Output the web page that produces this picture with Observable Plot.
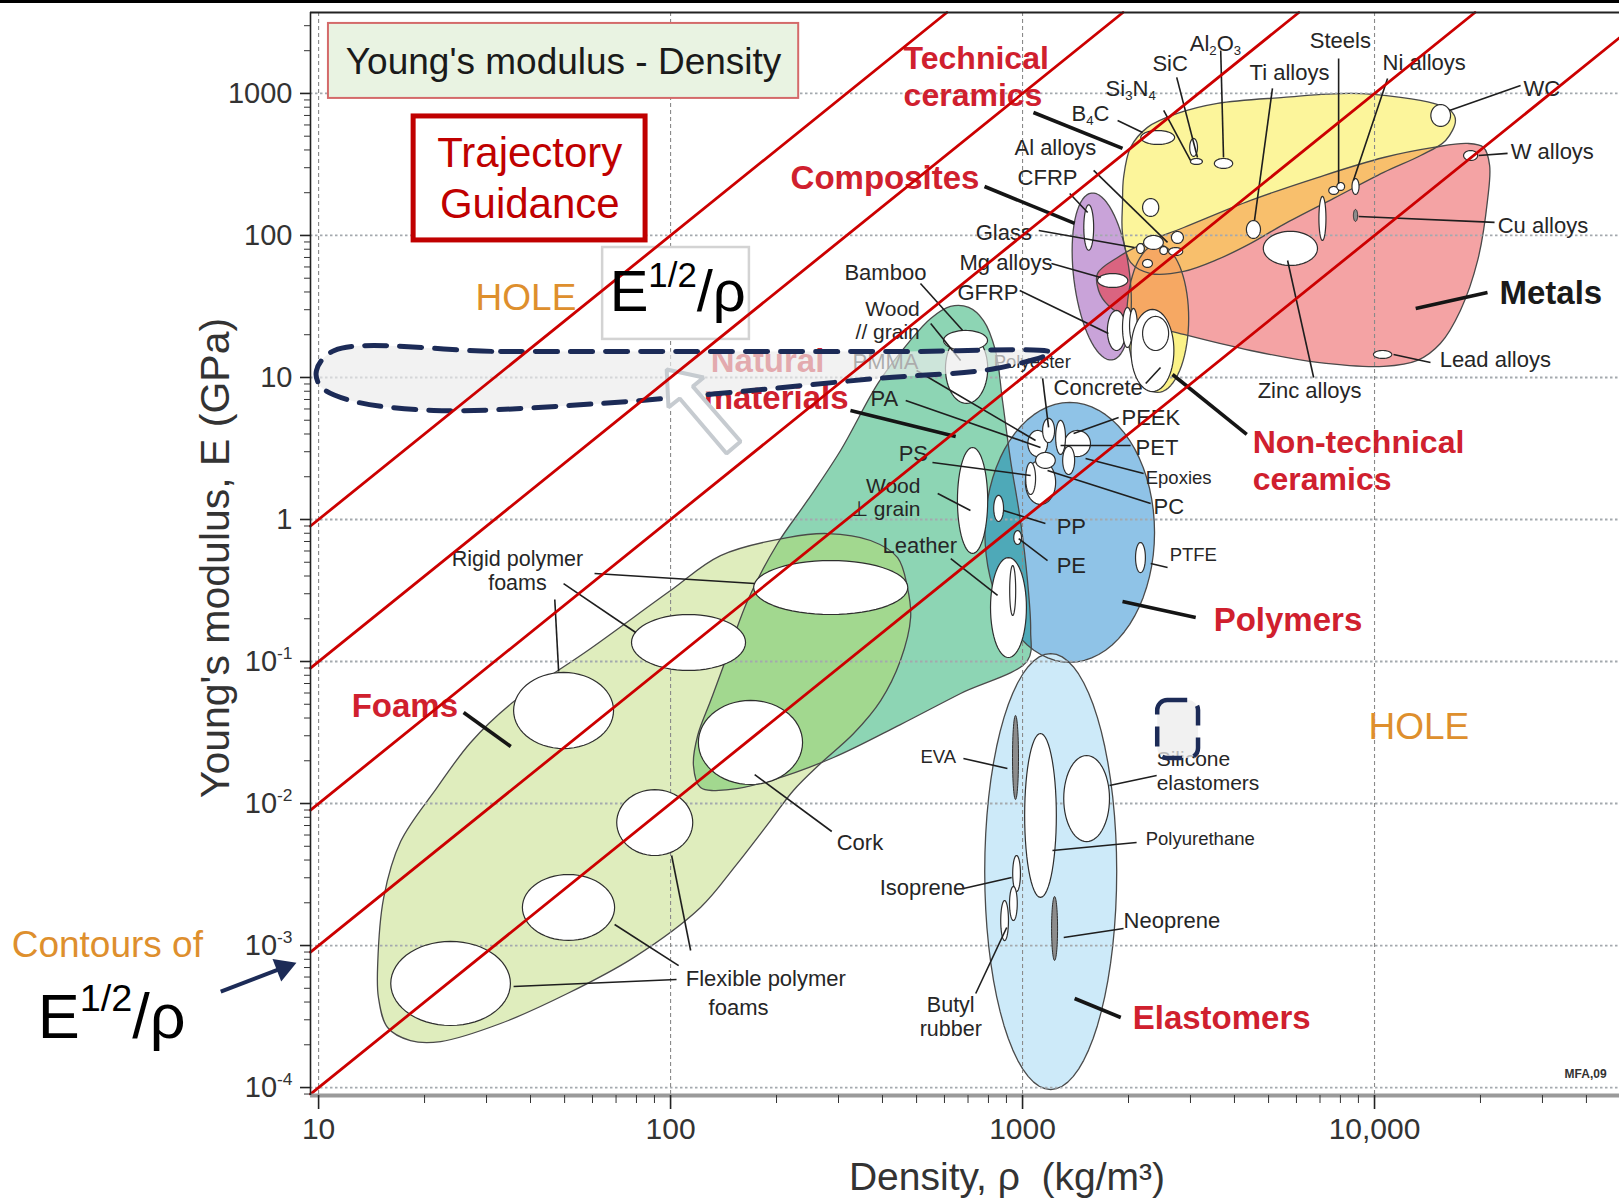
<!DOCTYPE html>
<html><head><meta charset="utf-8">
<script src="https://cdn.jsdelivr.net/npm/d3@7"></script>
<script src="https://cdn.jsdelivr.net/npm/@observablehq/plot@0.6"></script>
<style>
body{margin:0;background:#fff;}
#chart{position:absolute;left:0;top:0;}
#topbar{position:absolute;left:0;top:0;width:1619px;height:3px;background:#000;}
</style></head>
<body>
<div id="chart"></div>
<div id="topbar"></div>
<script>
// ======================= DATA (log10 density kg/m3, log10 modulus GPa) =======================
const xTicks = [10, 100, 1000, 10000];
const xTickLabels = ["10", "100", "1000", "10,000"];
const yTicks = [1e-4, 1e-3, 1e-2, 1e-1, 1, 10, 100, 1000];
const yTickLabels = ["10^{-4}", "10^{-3}", "10^{-2}", "10^{-1}", "1", "10", "100", "1000"];

// Guide lines E^(1/2)/rho = constant
const contourValues = [0.1, 0.0316, 0.01, 0.00316, 0.001];

// Family envelopes read as boundary points [log10 rho, log10 E]
const foamsOutline = [[1.261,-3.669],[1.196,-3.577],[1.170,-3.366],[1.168,-3.127],[1.185,-2.662],[1.233,-2.268],[1.335,-1.894],[1.432,-1.570],[1.551,-1.289],[1.773,-0.908],[2.000,-0.500],[2.142,-0.254],[2.332,-0.127],[2.446,-0.099],[2.568,-0.148],[2.645,-0.268],[2.673,-0.479],[2.682,-0.690],[2.653,-0.993],[2.597,-1.275],[2.520,-1.507],[2.426,-1.718],[2.349,-1.908],[2.284,-2.120],[2.185,-2.437],[2.085,-2.732],[1.895,-3.085],[1.707,-3.338],[1.517,-3.549],[1.347,-3.676]];
const naturalOutline = [[2.085,-1.887],[2.065,-1.732],[2.077,-1.521],[2.114,-1.275],[2.156,-0.993],[2.219,-0.570],[2.304,-0.169],[2.389,0.134],[2.483,0.486],[2.591,0.965],[2.679,1.254],[2.739,1.415],[2.795,1.500],[2.847,1.493],[2.889,1.401],[2.923,1.190],[2.943,0.838],[2.966,0.415],[2.994,-0.007],[3.014,-0.430],[3.023,-0.782],[3.014,-0.993],[2.824,-1.225],[2.653,-1.444],[2.463,-1.676],[2.284,-1.838],[2.170,-1.901]];
const techCeramicsOutline = [[3.284,2.014],[3.284,2.225],[3.287,2.408],[3.307,2.620],[3.355,2.761],[3.440,2.859],[3.554,2.930],[3.742,2.972],[3.932,3.000],[4.074,2.972],[4.168,2.930],[4.216,2.880],[4.230,2.810],[4.202,2.669],[4.131,2.563],[4.026,2.444],[3.884,2.261],[3.742,2.078],[3.648,1.944],[3.554,1.831],[3.458,1.747],[3.364,1.732],[3.307,1.810]];
const metalsOutline = [[3.213,1.732],[3.270,1.845],[3.344,1.944],[3.458,2.056],[3.648,2.247],[3.838,2.408],[4.026,2.549],[4.168,2.620],[4.264,2.648],[4.310,2.620],[4.327,2.493],[4.321,2.247],[4.293,1.824],[4.244,1.472],[4.187,1.239],[4.122,1.120],[4.026,1.078],[3.838,1.106],[3.648,1.190],[3.458,1.303],[3.315,1.401],[3.244,1.507],[3.216,1.613]];
// Elliptic envelopes: [family, log10 rho centre, log10 E centre, half-width (decades rho), half-height (decades E), tilt deg]
const ellipseFamilies = [
  ["Polymers", 3.134, -0.091, 0.241, 0.915, 0],
  ["Elastomers", 3.080, -2.479, 0.1875, 1.535, 0],
  ["Composites", 3.225, 1.711, 0.0795, 0.592, 7],
  ["Non-technical ceramics", 3.384, 1.416, 0.088, 0.521, 0]
];

// Material bubbles: [material, log10 rho, log10 E, half-width (decades), half-height (decades)]
const materialBubbles = [
  ["Flexible polymer foam a", 1.375, -3.267, 0.170, 0.296],
  ["Flexible polymer foam b", 1.710, -2.732, 0.131, 0.232],
  ["Flexible polymer foam c", 1.955, -2.134, 0.108, 0.232],
  ["Rigid polymer foam a", 1.696, -1.345, 0.142, 0.268],
  ["Rigid polymer foam b", 2.051, -0.866, 0.162, 0.197],
  ["Cork", 2.227, -1.570, 0.148, 0.296],
  ["Rigid polymer foam c", 2.455, -0.479, 0.219, 0.190],
  ["Wood // grain", 2.841, 1.063, 0.060, 0.246],
  ["Bamboo", 2.838, 1.261, 0.0625, 0.070],
  ["Wood ⊥ grain", 2.858, 0.134, 0.043, 0.373],
  ["Leather", 2.960, -0.620, 0.051, 0.352],
  ["Leather core", 2.972, -0.500, 0.0085, 0.176],
  ["PS", 3.051, 0.261, 0.043, 0.155],
  ["PA", 3.043, 0.535, 0.028, 0.092],
  ["PET", 3.156, 0.535, 0.037, 0.092],
  ["PEEK", 3.108, 0.578, 0.014, 0.120],
  ["PMMA", 3.023, 0.289, 0.014, 0.113],
  ["Polyester", 3.074, 0.627, 0.017, 0.085],
  ["Epoxies", 3.065, 0.416, 0.028, 0.056],
  ["PC", 3.131, 0.416, 0.017, 0.099],
  ["PP", 2.932, 0.078, 0.014, 0.092],
  ["PE", 2.986, -0.127, 0.011, 0.049],
  ["PTFE", 3.335, -0.268, 0.014, 0.106],
  ["Polyurethane", 3.051, -2.084, 0.045, 0.577],
  ["Silicone elastomers", 3.182, -1.965, 0.065, 0.303],
  ["Isoprene", 2.983, -2.493, 0.011, 0.127],
  ["Natural rubber", 2.974, -2.704, 0.011, 0.120],
  ["Butyl rubber", 2.949, -2.824, 0.011, 0.141],
  ["CFRP", 3.188, 2.056, 0.014, 0.160],
  ["GFRP", 3.267, 1.331, 0.026, 0.141],
  ["GFRP b", 3.298, 1.352, 0.014, 0.141],
  ["GFRP c", 3.315, 1.366, 0.011, 0.120],
  ["B4C", 3.384, 2.690, 0.048, 0.049],
  ["SiC", 3.486, 2.620, 0.011, 0.063],
  ["Si3N4", 3.494, 2.521, 0.017, 0.021],
  ["Al2O3", 3.571, 2.507, 0.026, 0.035],
  ["WC", 4.188, 2.845, 0.028, 0.077],
  ["W alloys", 4.273, 2.563, 0.020, 0.035],
  ["Steels a", 3.884, 2.317, 0.014, 0.028],
  ["Steels b", 3.904, 2.345, 0.011, 0.028],
  ["Ni alloys", 3.946, 2.345, 0.010, 0.056],
  ["Stainless", 3.852, 2.120, 0.010, 0.155],
  ["Ti alloys", 3.656, 2.042, 0.020, 0.063],
  ["Zinc alloys", 3.761, 1.909, 0.077, 0.120],
  ["Lead alloys", 4.023, 1.162, 0.026, 0.028],
  ["Glass ceramic", 3.364, 2.197, 0.023, 0.063],
  ["Al alloys", 3.372, 1.951, 0.028, 0.049],
  ["Al alloys b", 3.440, 1.986, 0.017, 0.042],
  ["Al alloys c", 3.435, 1.887, 0.020, 0.028],
  ["Al alloys d", 3.401, 1.894, 0.011, 0.028],
  ["Glass", 3.335, 1.908, 0.011, 0.035],
  ["Glass b", 3.355, 1.803, 0.014, 0.028],
  ["Mg alloys", 3.256, 1.683, 0.043, 0.049],
  ["Concrete", 3.369, 1.190, 0.061, 0.289],
  ["Concrete core", 3.378, 1.310, 0.037, 0.120]
];
const darkBubbles = [
  ["EVA", 2.980, -1.676, 0.0085, 0.296],
  ["Neoprene", 3.091, -2.880, 0.0085, 0.225],
  ["Cu alloys", 3.946, 2.141, 0.006, 0.042]
];

// Leader lines [name, rho1, E1, rho2, E2] (log10)
const familyLeaders = [
  ["Technical ceramics", 3.031, 2.866, 3.284, 2.613],
  ["Composites", 2.892, 2.345, 3.148, 2.085],
  ["Natural materials", 2.511, 0.768, 2.810, 0.585],
  ["Foams", 1.412, -1.359, 1.546, -1.598],
  ["Polymers", 3.284, -0.577, 3.492, -0.690],
  ["Elastomers", 3.148, -3.373, 3.279, -3.507],
  ["Non-technical ceramics", 3.426, 1.021, 3.637, 0.599],
  ["Metals", 4.117, 1.486, 4.321, 1.599]
];
const materialLeaders = [
  ["SiC", 3.438, 3.113, 3.497, 2.549], ["Si3N4", 3.401, 2.880, 3.477, 2.528],
  ["Al2O3", 3.563, 3.303, 3.571, 2.549], ["B4C", 3.270, 2.810, 3.341, 2.725],
  ["Ti alloys", 3.710, 3.035, 3.659, 2.106], ["Steels", 3.898, 3.246, 3.898, 2.366],
  ["Ni alloys", 4.037, 3.106, 3.940, 2.387], ["WC", 4.415, 3.056, 4.213, 2.880],
  ["W alloys", 4.378, 2.578, 4.296, 2.563], ["Cu alloys", 4.341, 2.092, 3.955, 2.134],
  ["CFRP", 3.134, 2.296, 3.185, 2.162], ["Al alloys", 3.202, 2.458, 3.412, 1.951],
  ["Glass", 3.046, 2.035, 3.318, 1.915], ["Mg alloys", 3.082, 1.803, 3.222, 1.704],
  ["GFRP", 2.992, 1.613, 3.244, 1.310], ["Bamboo", 2.710, 1.662, 2.830, 1.331],
  ["Wood // grain", 2.739, 1.380, 2.824, 1.120], ["Lead alloys", 4.159, 1.106, 4.054, 1.162],
  ["Zinc alloys", 3.827, 1.000, 3.753, 1.824], ["Concrete", 3.350, 0.958, 3.392, 1.070],
  ["Polyester", 3.057, 0.993, 3.074, 0.648], ["PMMA", 2.699, 1.049, 3.037, 0.556],
  ["PA", 2.668, 0.838, 3.051, 0.507], ["PEEK", 3.273, 0.718, 3.145, 0.606],
  ["PET", 3.307, 0.521, 3.108, 0.521], ["Epoxies", 3.344, 0.324, 3.179, 0.430],
  ["PC", 3.364, 0.113, 3.071, 0.345], ["PS", 2.744, 0.401, 3.023, 0.310],
  ["Wood ⊥ grain", 2.759, 0.183, 2.852, 0.063], ["PP", 3.065, -0.028, 2.946, 0.063],
  ["PE", 3.071, -0.289, 2.989, -0.134], ["PTFE", 3.412, -0.338, 3.364, -0.310],
  ["Leather", 2.796, -0.275, 2.929, -0.535], ["Rigid a", 1.784, -0.380, 2.239, -0.451],
  ["Rigid b", 1.696, -0.451, 1.901, -0.796], ["Rigid c", 1.671, -0.563, 1.682, -1.070],
  ["Flexible a", 2.017, -3.239, 1.554, -3.289], ["Flexible b", 2.023, -3.141, 1.841, -2.852],
  ["Flexible c", 2.057, -3.035, 2.003, -2.366], ["Cork", 2.239, -1.796, 2.458, -2.197],
  ["EVA", 2.832, -1.683, 2.957, -1.753], ["Silicone", 3.381, -1.803, 3.247, -1.873],
  ["Polyurethane", 3.324, -2.275, 3.085, -2.331], ["Isoprene", 2.832, -2.598, 2.969, -2.521],
  ["Neoprene", 3.287, -2.880, 3.117, -2.944], ["Butyl rubber", 2.867, -3.338, 2.955, -2.873]
];

// Labels [text, log10 rho (anchor), log10 E (centre)]
const familyLabels = [
  ["Composites", 2.341, 2.401],
  ["Natural", 2.114, 1.113], ["materials", 2.094, 0.852], ["Foams", 1.094, -1.317],
  ["Polymers", 3.543, -0.711], ["Elastomers", 3.313, -3.514]
];
const familyStackLabels = [["Technical\nceramics", 2.662, 3.127], ["Non-technical\nceramics", 3.654, 0.419]];
const metalsLabel = [["Metals", 4.355, 1.592]];
const materialLabels = [
  ["SiC", 3.369, 3.211], ["Al_{2}O_{3}", 3.475, 3.352], ["Steels", 3.816, 3.373],
  ["Ni alloys", 4.023, 3.218], ["WC", 4.423, 3.035], ["Ti alloys", 3.645, 3.141],
  ["Si_{3}N_{4}", 3.236, 3.035], ["B_{4}C", 3.139, 2.859], ["W alloys", 4.387, 2.585],
  ["Al alloys", 2.977, 2.613], ["CFRP", 2.986, 2.408], ["Cu alloys", 4.350, 2.070],
  ["Glass", 2.867, 2.021], ["Bamboo", 2.494, 1.739], ["Mg alloys", 2.821, 1.803],
  ["GFRP", 2.815, 1.592], ["Lead alloys", 4.185, 1.120], ["PMMA", 2.517, 1.106],
  ["Concrete", 3.088, 0.923], ["Zinc alloys", 3.668, 0.908], ["PA", 2.568, 0.852],
  ["PEEK", 3.281, 0.718], ["PET", 3.321, 0.507], ["PS", 2.648, 0.465],
  ["PC", 3.372, 0.085], ["PP", 3.097, -0.056], ["Leather", 2.602, -0.183],
  ["PE", 3.097, -0.324], ["Cork", 2.472, -2.275],
  ["Isoprene", 2.594, -2.598], ["Neoprene", 3.287, -2.824],
  ["Flexible polymer", 2.043, -3.232], ["foams", 2.108, -3.443]
];
const leftStackLabels = [["Silicone\nelastomers", 3.381, -1.768]];
const rightStackLabels = [["Wood\n// grain", 2.708, 1.401], ["Wood\n⊥ grain", 2.710, 0.155]];
const centreStackLabels = [["Butyl\nrubber", 2.796, -3.500], ["Rigid polymer\nfoams", 1.565, -0.359]];
const smallLabels = [
  ["Polyester", 2.918, 1.106], ["Epoxies", 3.350, 0.289], ["PTFE", 3.418, -0.253],
  ["EVA", 2.710, -1.676], ["Polyurethane", 3.350, -2.253]
];

// Annotations
const holeRegion = [[1.045,1.190],[1.517,1.183],[2.085,1.183],[2.653,1.183],[3.080,1.176],[2.923,1.063],[2.585,0.993],[2.136,0.887],[1.801,0.817],[1.327,0.768],[1.091,0.838],[1.006,0.937],[0.994,1.049]];
const holeRegionSmall = [[3.384, 3.500, -1.275, -1.683]];
const guidanceArrow = [[1.989,1.056],[2.094,1.000],[2.063,0.937],[2.199,0.549],[2.159,0.465],[2.026,0.852],[1.994,0.789]];
const titleBox = [[1.028, 2.364, 2.965, 3.493]];
const trajectoryBox = [[1.270, 1.929, 1.965, 2.838]];
const ratioBox = [[1.807, 2.224, 1.268, 1.915]];
const titleText = [["Young's modulus - Density", 1.696, 3.218]];
const trajectoryText = [["Trajectory", 1.600, 2.578], ["Guidance", 1.600, 2.218]];
const holeLabels = [["HOLE", 1.446, 1.556], ["HOLE", 3.983, -1.465]];
const ratioLabels = [["E^{1/2}/ρ", 1.827, 1.599], ["E^{1/2}/ρ", 0.202, -3.507]];
const contourNote = [["Contours of", 0.128, -3.000]];
const contourArrow = [[0.722, -3.324, 0.900, -3.156]];
const sourceNote = [["MFA,09", 4.540, -3.908]];

// ======================= LAYOUT / STYLE =======================
const W = 1619, H = 1201;
const M = {top: 12, right: 0, bottom: 106, left: 310};
const LX = [0.977, 4.696], LY = [-4.056, 3.570];
const xDom = [10 ** LX[0], 10 ** LX[1]], yDom = [10 ** LY[0], 10 ** LY[1]];
const pxDecX = (W - M.left - M.right) / (LX[1] - LX[0]);
const pxDecY = (H - M.top - M.bottom) / (LY[1] - LY[0]);
const SANS = "'Liberation Sans', Arial, Helvetica, sans-serif";
const NS = "http://www.w3.org/2000/svg";
const RED = "#d0202e", NAVY = "#1c2b57";

const familyFill = {
  "Foams": "#dfedbd", "Natural materials": "#8dd5b4", "Polymers": "#8fc3e7",
  "Elastomers": "#cdeaf9", "Composites": "#c9a3d9", "Technical ceramics": "#fcf59b",
  "Metals": "#f4a3a4", "Non-technical ceramics": "#fbf287"
};
const overlaps = [
  ["Foams", "Natural materials", "#a2d88f"],
  ["Polymers", "Natural materials", "#4ea9b8"],
  ["Metals", "Technical ceramics", "#f8bf6c"],
  ["Metals", "Composites", "#da6480"],
  ["Metals", "Non-technical ceramics", "#f6a863"]
];

const toVal = ([a, b]) => ({x: 10 ** a, y: 10 ** b});
function ellipse(lx, ly, rx, ry, tilt = 0, n = 72) {
  const s = pxDecY / pxDecX, a = tilt * Math.PI / 180, pts = [];
  for (let i = 0; i < n; i++) {
    const t = 2 * Math.PI * i / n;
    const u = rx * Math.cos(t), v = ry * s * Math.sin(t);
    const du = u * Math.cos(a) - v * Math.sin(a);
    const dv = u * Math.sin(a) + v * Math.cos(a);
    pts.push({x: 10 ** (lx + du), y: 10 ** (ly + dv / s)});
  }
  return pts;
}

const envelopes = [
  {family: "Foams", pts: foamsOutline.map(toVal), curve: "catmull-rom-closed"},
  {family: "Natural materials", pts: naturalOutline.map(toVal), curve: "catmull-rom-closed"},
  ...ellipseFamilies.slice(0, 2).map(([f, a, b, c, d, t]) => ({family: f, pts: ellipse(a, b, c, d, t), curve: "linear-closed"})),
  {family: "Composites", pts: ellipse(...ellipseFamilies[2].slice(1)), curve: "linear-closed"},
  {family: "Technical ceramics", pts: techCeramicsOutline.map(toVal), curve: "catmull-rom-closed"},
  {family: "Metals", pts: metalsOutline.map(toVal), curve: "catmull-rom-closed"},
  {family: "Non-technical ceramics", pts: ellipse(...ellipseFamilies[3].slice(1)), curve: "linear-closed"}
];

const bubblePts = rows => rows.flatMap(([name, lx, ly, rx, ry]) => ellipse(lx, ly, rx, ry, 0, 60).map(p => ({...p, name})));

const contourLines = contourValues.flatMap(c => {
  const lo = Math.max(xDom[0], Math.sqrt(yDom[0]) / c);
  const hi = Math.min(xDom[1], Math.sqrt(yDom[1]) / c);
  return [{c, x: lo, y: (c * lo) ** 2}, {c, x: hi, y: (c * hi) ** 2}];
});

const yMinor = d3.range(-5, 4).flatMap(k => d3.range(2, 10).map(m => m * 10 ** k)).filter(v => v > yDom[0] && v < yDom[1]);
const xMinor = d3.range(0, 5).flatMap(k => d3.range(2, 10).map(m => m * 10 ** k)).filter(v => v > xDom[0] && v < xDom[1]);

const lx = d => 10 ** d[1], ly = d => 10 ** d[2];
const textMark = (data, o) => Plot.text(data, {x: lx, y: ly, text: d => d[0], textAnchor: "start", lineAnchor: "middle", fontFamily: SANS, ...o});
const linkMark = (data, o) => Plot.link(data, {x1: d => 10 ** d[1], y1: d => 10 ** d[2], x2: d => 10 ** d[3], y2: d => 10 ** d[4], ...o});
const boxMark = (data, o) => Plot.rect(data, {x1: d => 10 ** d[0], x2: d => 10 ** d[1], y1: d => 10 ** d[2], y2: d => 10 ** d[3], ...o});

const marks = [];
envelopes.forEach(e => marks.push(Plot.line(e.pts, {x: "x", y: "y", curve: e.curve, fill: familyFill[e.family], stroke: "none"})));
envelopes.forEach(e => marks.push(Plot.line(e.pts, {x: "x", y: "y", curve: e.curve, fill: "none", stroke: "#4a4a4a", strokeWidth: 1.3})));
marks.push(Plot.ruleY(yTicks, {stroke: "#a4a9ae", strokeWidth: 1.8, strokeDasharray: "2.5,2.5"}));
marks.push(Plot.ruleX(xTicks, {stroke: "#8a8a8a", strokeWidth: 1.1, strokeDasharray: "4,3"}));
marks.push(Plot.line(bubblePts(materialBubbles), {x: "x", y: "y", z: "name", curve: "linear-closed", fill: "white", stroke: "#2e2e2e", strokeWidth: 1.2}));
marks.push(Plot.line(bubblePts(darkBubbles), {x: "x", y: "y", z: "name", curve: "linear-closed", fill: "#8c8c8c", stroke: "#2e2e2e", strokeWidth: 1}));
marks.push(linkMark(materialLeaders, {stroke: "#1e1e1e", strokeWidth: 1.6}));
marks.push(linkMark(familyLeaders, {stroke: "#151515", strokeWidth: 3.6}));
marks.push(textMark(materialLabels, {fontSize: 22, fill: "#262626"}));
marks.push(textMark(leftStackLabels, {fontSize: 21, fill: "#262626", lineHeight: 1.1}));
marks.push(textMark(rightStackLabels, {fontSize: 21, fill: "#262626", lineHeight: 1.1, textAnchor: "end"}));
marks.push(textMark(centreStackLabels, {fontSize: 21.5, fill: "#262626", lineHeight: 1.12, textAnchor: "middle"}));
marks.push(textMark(smallLabels, {fontSize: 18.5, fill: "#262626"}));
marks.push(textMark(familyLabels, {fontSize: 33, fontWeight: "bold", fill: RED}));
marks.push(textMark(familyStackLabels, {fontSize: 32, fontWeight: "bold", fill: RED, lineHeight: 1.15}));
marks.push(textMark(metalsLabel, {fontSize: 33, fontWeight: "bold", fill: "#1a1a1a"}));
// dashed "hole" regions
marks.push(Plot.line(holeRegion.map(toVal), {x: "x", y: "y", curve: "catmull-rom-closed", fill: "#ececec", fillOpacity: 0.68, stroke: NAVY, strokeWidth: 5, strokeDasharray: "22,13"}));
marks.push(boxMark(holeRegionSmall, {rx: 10, fill: "#ececec", fillOpacity: 0.75, stroke: NAVY, strokeWidth: 4.5, strokeDasharray: "20,12"}));
marks.push(Plot.line(guidanceArrow.map(toVal), {x: "x", y: "y", curve: "linear-closed", fill: "white", stroke: "#c6cbd0", strokeWidth: 4, strokeLinejoin: "miter"}));
// boxes
marks.push(boxMark(titleBox, {fill: "#e9f3e2", stroke: "#d46a6a", strokeWidth: 2}));
marks.push(boxMark(trajectoryBox, {fill: "white", stroke: "#c00000", strokeWidth: 5}));
marks.push(boxMark(ratioBox, {fill: "white", stroke: "#d3d3d3", strokeWidth: 2.5}));
// guide lines
marks.push(Plot.line(contourLines, {x: "x", y: "y", z: "c", stroke: "#cc0000", strokeWidth: 2.8}));
// annotation texts
marks.push(Plot.text(titleText, {x: lx, y: ly, text: d => d[0], textAnchor: "middle", fontFamily: SANS, fontSize: 37, fill: "#1a1a1a"}));
marks.push(Plot.text(trajectoryText, {x: lx, y: ly, text: d => d[0], textAnchor: "middle", fontFamily: SANS, fontSize: 42, fill: "#c00000"}));
marks.push(textMark(holeLabels, {fontSize: 37, fill: "#de8f2d"}));
marks.push(textMark(contourNote, {fontSize: 37, fill: "#de8f2d"}));
marks.push(textMark(ratioLabels.slice(0, 1), {fontSize: 58, fill: "#000"}));
marks.push(textMark(ratioLabels.slice(1), {fontSize: 63, fill: "#000"}));
marks.push(textMark(sourceNote, {fontSize: 12, fontWeight: "bold", fill: "#333"}));
marks.push(linkMark(contourArrow.map(d => [""].concat(d)), {stroke: NAVY, strokeWidth: 4}));
marks.push(Plot.dot(contourArrow, {x: d => 10 ** d[2], y: d => 10 ** d[3], symbol: "triangle", r: 9, fill: NAVY, stroke: "none", rotate: 69}));
// axes
marks.push(Plot.ruleY([yDom[0]], {stroke: "#9a9a9a", strokeWidth: 4}));
marks.push(Plot.ruleX([xDom[0]], {stroke: "#222", strokeWidth: 1.6}));
marks.push(Plot.ruleY([yDom[1]], {stroke: "#222", strokeWidth: 2}));
marks.push(Plot.axisY(yTicks, {anchor: "left", label: null, tickSize: 10, tickPadding: 8, stroke: "#222", strokeWidth: 1.6, fill: "#333", fontSize: 29, fontFamily: SANS, tickFormat: d => yTickLabels[yTicks.indexOf(d)]}));
marks.push(Plot.axisY(yMinor, {anchor: "left", label: null, tickSize: 6, stroke: "#333", tickFormat: () => ""}));
marks.push(Plot.axisX(xTicks, {anchor: "bottom", label: null, tickSize: 14, tickPadding: 8, stroke: "#222", strokeWidth: 1.6, fill: "#333", fontSize: 30, fontFamily: SANS, tickFormat: d => xTickLabels[xTicks.indexOf(d)]}));
marks.push(Plot.axisX(xMinor, {anchor: "bottom", label: null, tickSize: 8, stroke: "#333", tickFormat: () => ""}));
marks.push(Plot.text(["Young's modulus, E (GPa)"], {frameAnchor: "left", textAnchor: "middle", lineAnchor: "middle", dx: -95, dy: 4, rotate: -90, fontSize: 41, fontFamily: SANS, fill: "#333"}));
marks.push(Plot.text(["Density, ρ\u00a0 (kg/m³)"], {frameAnchor: "bottom", textAnchor: "middle", lineAnchor: "middle", dx: 42, dy: 82, fontSize: 39, fontFamily: SANS, fill: "#333"}));

const chart = Plot.plot({
  width: W, height: H,
  marginTop: M.top, marginRight: M.right, marginBottom: M.bottom, marginLeft: M.left,
  x: {type: "log", domain: xDom},
  y: {type: "log", domain: yDom},
  style: {fontFamily: SANS, background: "white", overflow: "visible"},
  marks
});
document.getElementById("chart").appendChild(chart);
const svg = chart.tagName.toLowerCase() === "svg" ? chart : chart.querySelector("svg");

// overlapping envelope areas (clipped copies)
const defs = document.createElementNS(NS, "defs");
svg.insertBefore(defs, svg.firstChild);
const fillGroup = fam => svg.querySelector(`g[fill="${familyFill[fam]}"]`);
let anchor = fillGroup("Non-technical ceramics");
overlaps.forEach(([clipFam, shapeFam, color], i) => {
  const cg = fillGroup(clipFam), sg = fillGroup(shapeFam);
  if (!cg || !sg || !anchor) return;
  const cp = document.createElementNS(NS, "clipPath");
  cp.setAttribute("id", "ovl" + i);
  cp.appendChild(cg.querySelector("path").cloneNode(true));
  defs.appendChild(cp);
  const g = sg.cloneNode(false);
  g.setAttribute("fill", color);
  const p = sg.querySelector("path").cloneNode(true);
  p.setAttribute("clip-path", `url(#ovl${i})`);
  g.appendChild(p);
  anchor.after(g);
  anchor = g;
});

// superscripts / subscripts
svg.querySelectorAll("text").forEach(t => {
  const s = t.textContent;
  if (!/[\^_]\{/.test(s)) return;
  const fs = parseFloat(getComputedStyle(t).fontSize) || 20;
  t.textContent = "";
  let cur = 0, last = 0, m;
  const re = /([\^_])\{([^}]*)\}/g;
  const add = (txt, target, size) => {
    const ts = document.createElementNS(NS, "tspan");
    ts.textContent = txt;
    const dy = target - cur;
    if (dy) ts.setAttribute("dy", dy.toFixed(2));
    if (size) ts.setAttribute("font-size", size.toFixed(1));
    cur = target;
    t.appendChild(ts);
  };
  while ((m = re.exec(s))) {
    if (m.index > last) add(s.slice(last, m.index), 0);
    add(m[2], m[1] === "^" ? -0.42 * fs : 0.22 * fs, 0.6 * fs);
    last = re.lastIndex;
  }
  if (last < s.length) add(s.slice(last), 0);
});
</script>
</body></html>
